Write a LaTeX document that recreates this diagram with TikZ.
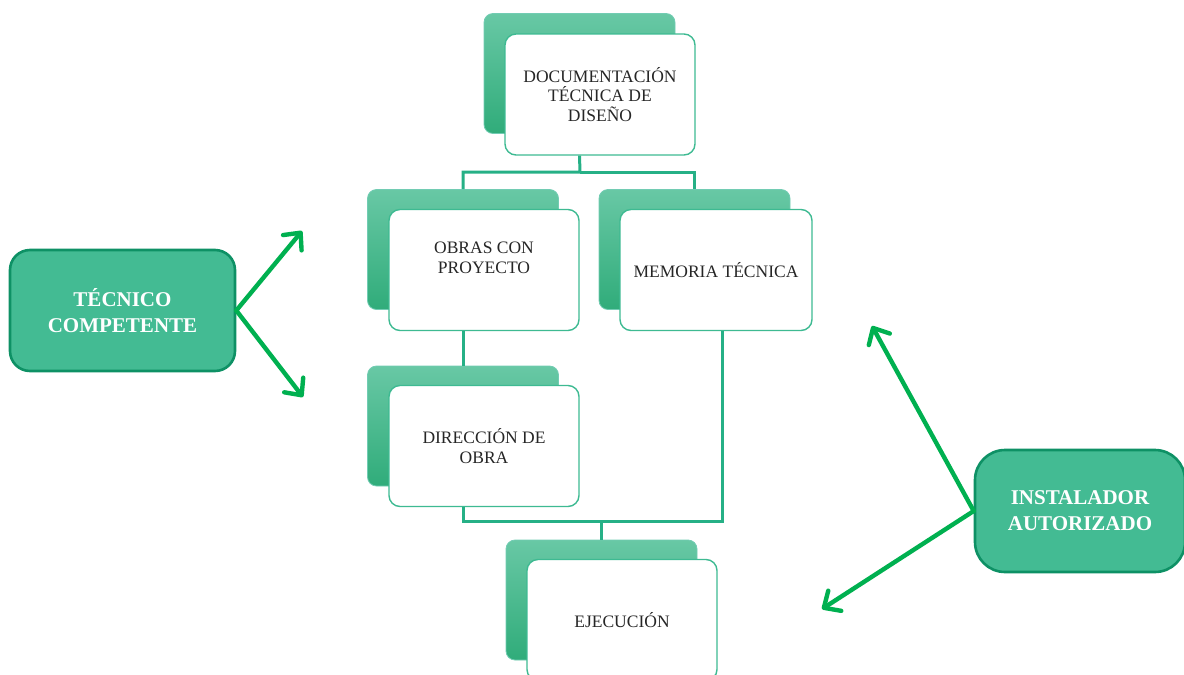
\documentclass[tikz,border=0pt]{standalone}
\usepackage{fontspec}
\setmainfont{Liberation Serif}
\usetikzlibrary{arrows.meta}
\definecolor{linkgreen}{RGB}{38,176,134}
\definecolor{cardedge}{RGB}{62,186,146}
\definecolor{backtop}{RGB}{104,200,165}
\definecolor{backbot}{RGB}{48,172,122}
\definecolor{backrim}{RGB}{130,210,200}
\definecolor{arrowgreen}{RGB}{0,176,80}
\definecolor{rolefill}{RGB}{67,187,147}
\definecolor{roleedge}{RGB}{14,145,101}
\tikzset{
  backcard/.style={rectangle, rounded corners=9pt, top color=backtop, bottom color=backbot,
    draw=backrim!40!backtop, line width=0.8pt, minimum width=191pt, minimum height=120pt, inner sep=0pt},
  frontcard/.style={rectangle, rounded corners=11pt, fill=white, draw=cardedge, line width=1.4pt,
    minimum width=190pt, minimum height=121pt, inner sep=2pt, align=center,
    font=\fontsize{17.5}{19.5}\selectfont, text=black!85},
  cardtext/.style={align=center, font=\fontsize{17.5}{19.5}\selectfont, text=black!85},
  rolebox/.style={rectangle, fill=rolefill, draw=roleedge, line width=2.6pt, align=center,
    text=white, font=\fontsize{21}{26}\selectfont\bfseries, inner sep=0pt},
  link/.style={draw=linkgreen, line width=3pt},
  pointer/.style={draw=arrowgreen, line width=4.4pt, line cap=round,
    -{Straight Barb[length=13pt, width=24pt, line cap=round, line join=round]}},
}
\begin{document}
\begin{tikzpicture}[x=1pt, y=-1pt]
\useasboundingbox (0,0) rectangle (1184,675);

% design documentation
\node[backcard] (docB) at (579.5,73.5) {};
\node[frontcard] (docF) at (600,94.5) {DOCUMENTACIÓN\\TÉCNICA DE\\DISEÑO};

% projects and technical report
\node[backcard] (obrasB) at (463,249.5) {};
\node[frontcard, label={[cardtext, yshift=12pt]center:OBRAS CON\\PROYECTO}] (obrasF) at (484,270) {};
\node[backcard] (memB) at (694.5,249.5) {};
\node[frontcard, minimum width=192pt] (memF) at (716,270) {MEMORIA TÉCNICA};

% site management
\node[backcard] (dirB) at (463,426) {};
\node[frontcard] (dirF) at (484,446) {DIRECCIÓN DE\\OBRA};

% execution
\node[backcard] (ejeB) at (601.5,600) {};
\node[frontcard] (ejeF) at (622,620) {EJECUCIÓN};

% tree connectors
\coordinate (split) at (580,172);
\coordinate (merge) at (601.5,521);
\draw[link] (docB.south |- docF.south) -- (split) -| (obrasB.north);
\draw[link] (split) -| (memB.north);
\draw[link] (obrasB.south |- obrasF.south) -- (dirB.north);
\draw[link] (dirB.south |- dirF.south) -- (dirB.south |- merge) -- (merge);
\draw[link] ([xshift=6pt]memF.south) -- ([xshift=6pt]memF.south |- merge) -- (merge);
\draw[link] (merge) -- (ejeB.north);

% responsible roles
\node[rolebox, rounded corners=20pt, minimum width=225pt, minimum height=121pt] (tec) at (122.5,310.5) {TÉCNICO\\COMPETENTE};
\node[rolebox, rounded corners=30pt, minimum width=210pt, minimum height=122pt] (inst) at (1080,511) {INSTALADOR\\AUTORIZADO};

\coordinate (t1) at (302,231);
\coordinate (t2) at (303,397);
\coordinate (i1) at (872,326);
\coordinate (i2) at (822,609);
\draw[pointer] (tec.east) -- (t1);
\draw[pointer] (tec.east) -- (t2);
\draw[pointer] (inst.west) -- (i1);
\draw[pointer] (inst.west) -- (i2);
\end{tikzpicture}
\end{document}
